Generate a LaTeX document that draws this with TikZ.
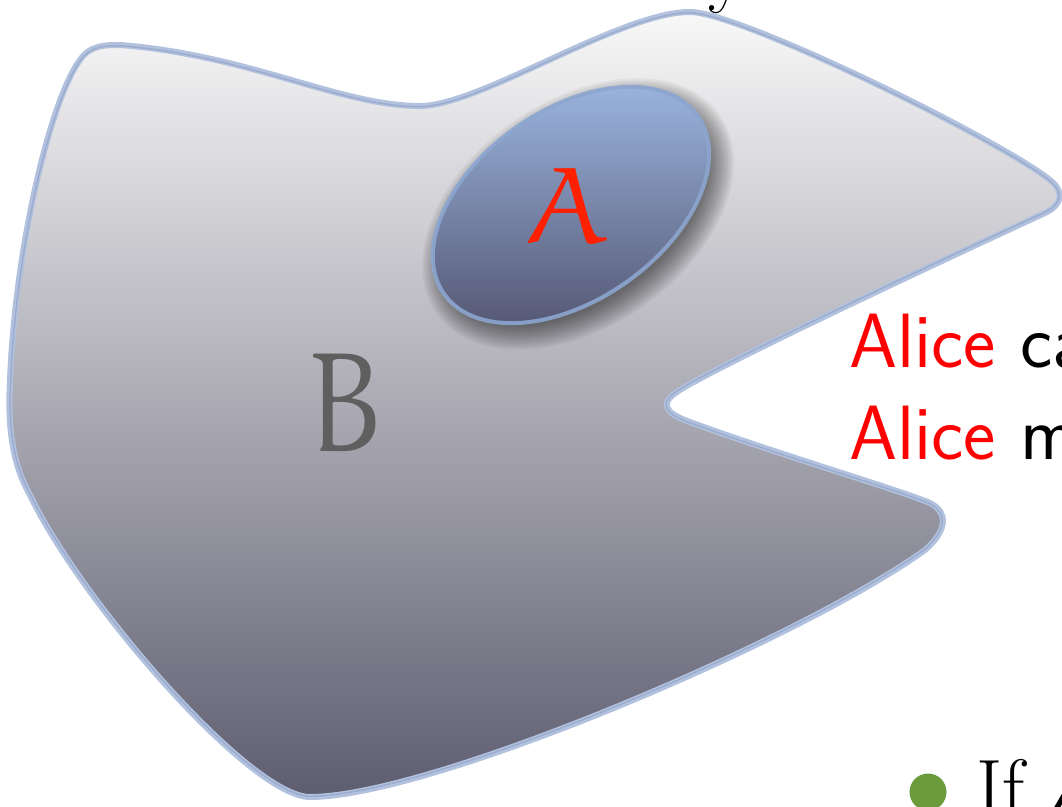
\documentclass[tikz,border=0pt]{standalone}
\usepackage{fontspec}
\DeclareFontFamily{U}{myeur}{}
\DeclareFontShape{U}{myeur}{m}{n}{<-> eurm10}{}
\newcommand{\myeuler}{\usefont{U}{myeur}{m}{n}}
\definecolor{blobline}{RGB}{178,194,222}
\definecolor{blobinner}{RGB}{140,158,196}
\definecolor{blobtop}{RGB}{248,248,248}
\definecolor{blobmid}{RGB}{184,184,192}
\definecolor{blobbot}{RGB}{94,93,112}
\definecolor{elltop}{RGB}{156,182,224}
\definecolor{ellbot}{RGB}{84,86,114}
\definecolor{ellline}{RGB}{140,166,208}
\definecolor{bulletgreen}{RGB}{106,154,58}
\definecolor{Bgray}{RGB}{95,95,95}
\definecolor{Ared}{RGB}{255,32,0}
\newcommand{\blobpath}{(120,45) .. controls (250,55) and (340,106) .. (420,106)
 .. controls (480,106) and (620,12) .. (690,12)
 .. controls (740,12) and (1000,140) .. (1050,180)
 .. controls (1065,192) and (1062,205) .. (1045,213)
 .. controls (900,280) and (720,365) .. (680,390)
 .. controls (660,402) and (662,412) .. (690,422)
 .. controls (780,455) and (900,490) .. (930,503)
 .. controls (948,512) and (948,530) .. (925,550)
 .. controls (800,640) and (430,797) .. (310,797)
 .. controls (250,797) and (80,600) .. (30,495)
 .. controls (10,460) and (8,420) .. (10,380)
 .. controls (15,250) and (50,100) .. (80,60)
 .. controls (90,45) and (105,45) .. cycle}
\begin{document}
\begin{tikzpicture}[x=1pt,y=-1pt,
  blobfill/.style={top color=blobtop, middle color=blobmid, bottom color=blobbot},
  bloboutline/.style={line width=6pt, draw=blobline},
  blobedge/.style={line width=3pt, draw=blobinner, draw opacity=0.6},
  ellstyle/.style={line width=4pt, draw=ellline, draw opacity=0.9, top color=elltop, bottom color=ellbot},
  shadowstep/.style={fill=black, fill opacity=0.045},
  alicetext/.style={anchor=base west, inner sep=0pt, font=\sffamily\fontsize{77}{92}\selectfont},
  bigletter/.style={inner sep=0pt}]
\useasboundingbox (0,0) rectangle (1062,806);
\clip (0,0) rectangle (1062,806);
\node[anchor=base west, inner sep=0pt, font=\fontsize{80}{96}\selectfont] (ytail) at (708,-3) {y};
\shade[blobfill] \blobpath;
\draw[bloboutline] \blobpath;
\begin{scope}
  \clip \blobpath;
  \draw[blobedge] \blobpath;
\end{scope}
\foreach \r in {-6,-4,...,18} {
  \fill[shadowstep] (578,214) ellipse [x radius=155pt+\r pt, y radius=95pt+\r pt, rotate=35];
}
\path[ellstyle] (571,205) ellipse [x radius=155pt, y radius=95pt, rotate=35];
\node[bigletter, text=Ared, font=\myeuler\fontsize{110}{130}\selectfont] (A) at (568,205) {A};
\node[bigletter, text=Bgray, xscale=0.84, font=\myeuler\fontsize{142}{160}\selectfont] (B) at (347,402) {B};
\node[alicetext] (line1) at (849,367) {\textcolor{red}{Alice} ca};
\node[alicetext] (line2) at (849,459) {\textcolor{red}{Alice} m};
\node[circle, fill=bulletgreen, minimum size=37pt, inner sep=0pt] (bullet) at (928,792) {};
\node[anchor=base west, inner sep=0pt, font=\fontsize{80}{96}\selectfont] (ifa) at (976,815) {If {\myeuler A}};
\end{tikzpicture}
\end{document}
